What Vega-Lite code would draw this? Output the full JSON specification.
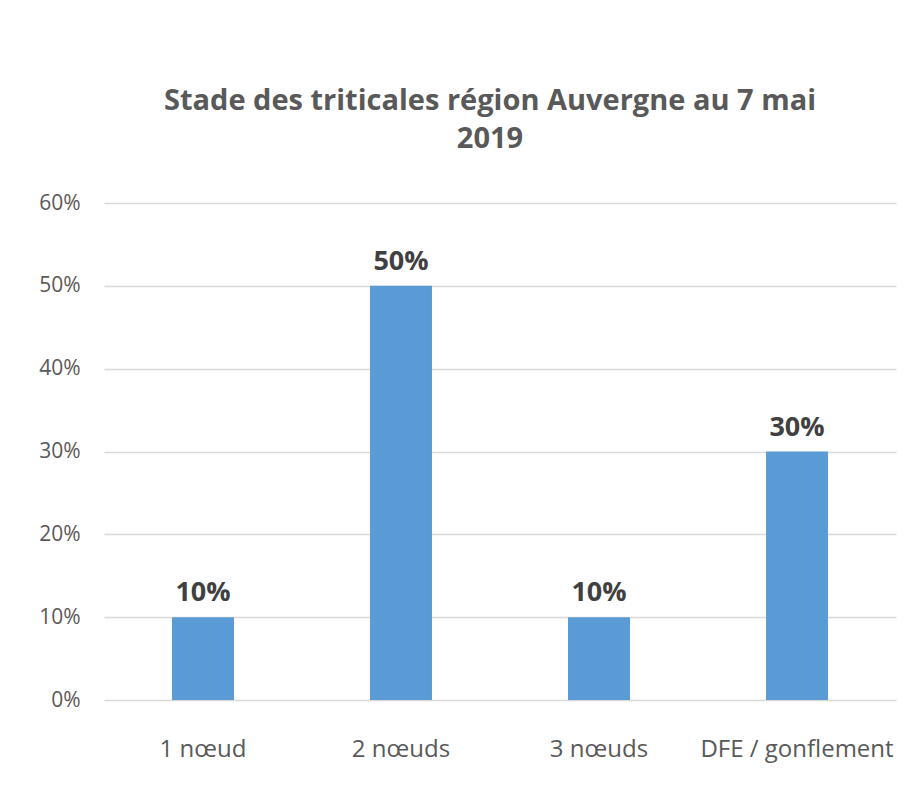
{
  "$schema": "https://vega.github.io/schema/vega-lite/v6.json",
  "autosize": "none",
  "width": 792,
  "height": 497,
  "padding": {"left": 104, "top": 203, "right": 27, "bottom": 107},
  "background": "white",
  "config": {"view": {"stroke": null}, "font": "Open Sans"},
  "title": {
    "text": ["Stade des triticales région Auvergne au 7 mai", "2019"],
    "fontSize": 29,
    "font": "Open Sans",
    "fontWeight": "bold",
    "color": "#595959",
    "lineHeight": 38,
    "anchor": "middle",
    "dx": -10,
    "offset": 38
  },
  "data": {
    "values": [
      {"stade": "1 nœud", "pct": 0.10},
      {"stade": "2 nœuds", "pct": 0.50},
      {"stade": "3 nœuds", "pct": 0.10},
      {"stade": "DFE / gonflement", "pct": 0.30}
    ]
  },
  "encoding": {
    "x": {
      "field": "stade",
      "type": "nominal",
      "sort": null,
      "scale": {"paddingInner": 0, "paddingOuter": 0},
      "axis": {
        "title": null,
        "labelAngle": 0,
        "labelFontSize": 24,
        "labelColor": "#595959",
        "labelFont": "Open Sans",
        "labelPadding": 37,
        "labelLimit": 0,
        "ticks": false,
        "domain": false
      }
    },
    "y": {
      "field": "pct",
      "type": "quantitative",
      "scale": {"domain": [0, 0.6]},
      "axis": {
        "title": null,
        "format": ".0%",
        "values": [0, 0.1, 0.2, 0.3, 0.4, 0.5, 0.6],
        "labelFontSize": 21,
        "labelColor": "#595959",
        "labelFont": "Open Sans",
        "labelPadding": 24,
        "ticks": false,
        "domain": false,
        "grid": true,
        "gridColor": "#d9d9d9",
        "gridWidth": 1.5
      }
    }
  },
  "layer": [
    {
      "mark": {"type": "bar", "color": "#5B9BD5", "width": {"band": 0.313}}
    },
    {
      "mark": {"type": "text", "fontSize": 27, "fontWeight": "bold", "color": "#404040", "baseline": "bottom", "dy": -10, "font": "Open Sans"},
      "encoding": {"text": {"field": "pct", "format": ".0%"}}
    }
  ]
}
